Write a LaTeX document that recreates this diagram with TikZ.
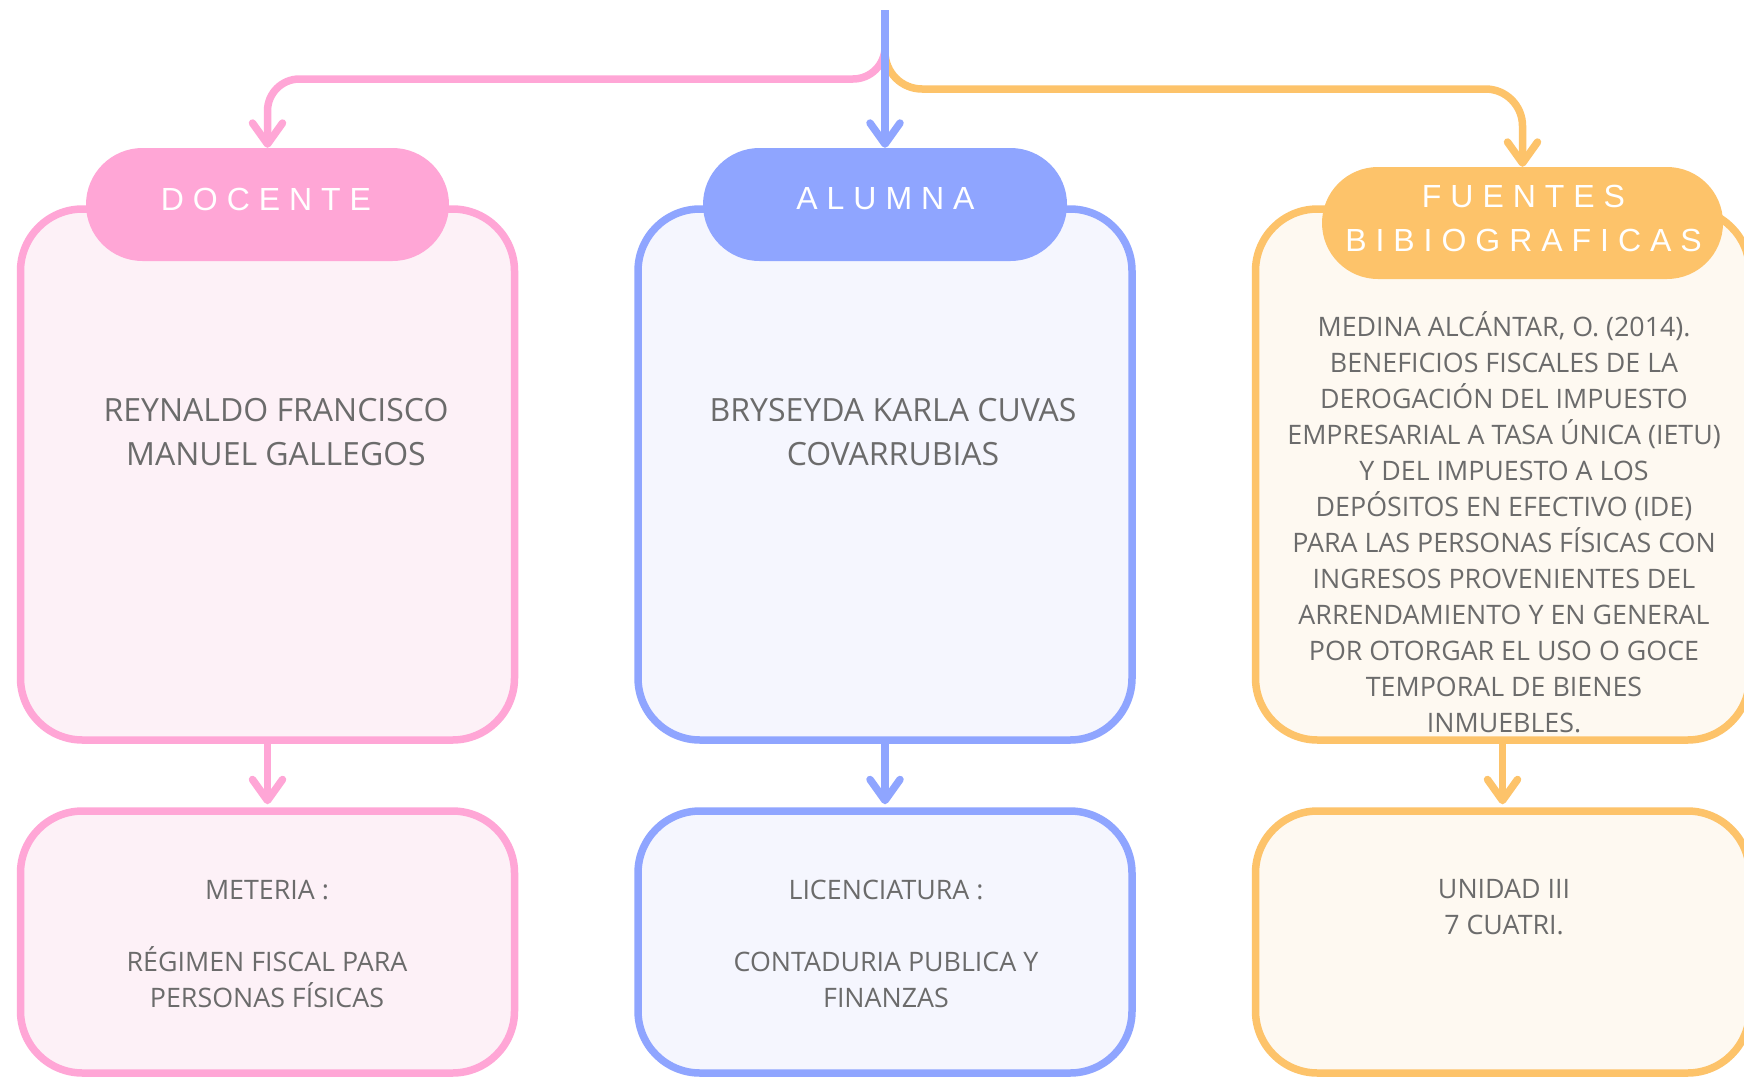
\documentclass[tikz,border=0pt]{standalone}
\usepackage{fontspec}
\setmainfont{Open Sans}
\newfontfamily\headfont[LetterSpace=28]{Liberation Sans}
\usetikzlibrary{arrows.meta,shapes.misc}

\definecolor{pinkS}{HTML}{FFA6D6}
\definecolor{pinkF}{HTML}{FDF1F7}
\definecolor{blueS}{HTML}{8FA5FF}
\definecolor{blueF}{HTML}{F5F6FE}
\definecolor{orS}{HTML}{FDC36A}
\definecolor{orF}{HTML}{FEF9F1}
\definecolor{txt}{HTML}{6B6B6B}

\begin{document}
\begin{tikzpicture}[x=1pt,y=-1pt,
  cardbox/.style={draw, line width=7.5pt, rounded corners=62pt, inner sep=0pt, minimum width=494pt},
  bigbox/.style={cardbox, minimum height=531pt},
  lowbox/.style={cardbox, minimum height=262pt},
  pill/.style={rounded rectangle, inner sep=0pt, minimum height=113pt},
  headtxt/.style={text=white, inner sep=0pt, align=center, font=\headfont\fontsize{32}{44}\selectfont},
  conn/.style={line width=7.5pt, -{Straight Barb[length=21pt,width=30pt,round]}},
  bodytxt/.style={text=txt, align=center, inner sep=0pt, font=\fontsize{26.8}{36}\selectfont},
  nametxt/.style={text=txt, align=center, inner sep=0pt, font=\fontsize{32}{44}\selectfont},
]
\useasboundingbox (0,0) rectangle (1744,1076);
\fill[white] (0,0) rectangle (1744,1076);

% boxes
\node[bigbox, draw=pinkS, fill=pinkF] (docbox) at (267.5,474.5) {};
\node[lowbox, draw=pinkS, fill=pinkF] (docinfo) at (267.5,942) {};
\node[bigbox, draw=blueS, fill=blueF] (alubox) at (885,474.5) {};
\node[lowbox, draw=blueS, fill=blueF] (aluinfo) at (885,942) {};
\node[bigbox, draw=orS, fill=orF] (fuebox) at (1502.5,474.5) {};
\node[lowbox, draw=orS, fill=orF] (fueinfo) at (1502.5,942) {};

% pills
\node[pill, fill=pinkS, minimum width=363pt] (docpill) at (267.5,204.5) {};
\node[pill, fill=blueS, minimum width=364pt] (alupill) at (885,204.5) {};
\node[pill, fill=orS, minimum width=401pt, minimum height=112pt] (fuepill) at (1522.5,223) {};

\node[headtxt] (doclbl) at (261.5,199) {DOCENTE\kern-9pt};
\node[headtxt] (alulbl) at (881,199) {ALUMNA\kern-9pt};
\node[headtxt] (fuelbl) at (1519,218) {FUENTES\kern-9pt\\BIBIOGRAFICAS\kern-9pt};

% texts
\node[nametxt] (docname) at (276,432) {REYNALDO FRANCISCO\\MANUEL GALLEGOS};
\node[nametxt] (aluname) at (893,432) {BRYSEYDA KARLA CUVAS\\COVARRUBIAS};
\node[bodytxt] (fuetext) at (1504,522.5) {MEDINA ALCÁNTAR, O. (2014).\\BENEFICIOS FISCALES DE LA\\DEROGACIÓN DEL IMPUESTO\\EMPRESARIAL A TASA ÚNICA (IETU)\\Y DEL IMPUESTO A LOS\\DEPÓSITOS EN EFECTIVO (IDE)\\PARA LAS PERSONAS FÍSICAS CON\\INGRESOS PROVENIENTES DEL\\ARRENDAMIENTO Y EN GENERAL\\POR OTORGAR EL USO O GOCE\\TEMPORAL DE BIENES\\INMUEBLES.};
\node[bodytxt] (doctext) at (267,944) {METERIA :\\[36pt]RÉGIMEN FISCAL PARA\\PERSONAS FÍSICAS};
\node[bodytxt] (alutext) at (886,944) {LICENCIATURA :\\[36pt]CONTADURIA PUBLICA Y\\FINANZAS};
\node[bodytxt] (fueinfotext) at (1504,907.5) {UNIDAD III\\7 CUATRI.};

% connectors
\coordinate (root) at (885,10);
\coordinate (pinkturn) at (docpill.north |- 0,79);
\coordinate (orturn) at (fuepill.north |- 0,89);
\draw[conn, pinkS, rounded corners=32pt] (root) |- (pinkturn) -- (docpill.north);
\draw[conn, orS, rounded corners=37pt] (root) |- (orturn) -- (fuepill.north);
\draw[conn, blueS] (root) -- (alupill.north);

\draw[conn, pinkS, shorten >=3pt] (docbox.south) -- (docinfo.north);
\draw[conn, blueS, shorten >=3pt] (alubox.south) -- (aluinfo.north);
\draw[conn, orS, shorten >=3pt] (fuebox.south) -- (fueinfo.north);
\end{tikzpicture}
\end{document}
